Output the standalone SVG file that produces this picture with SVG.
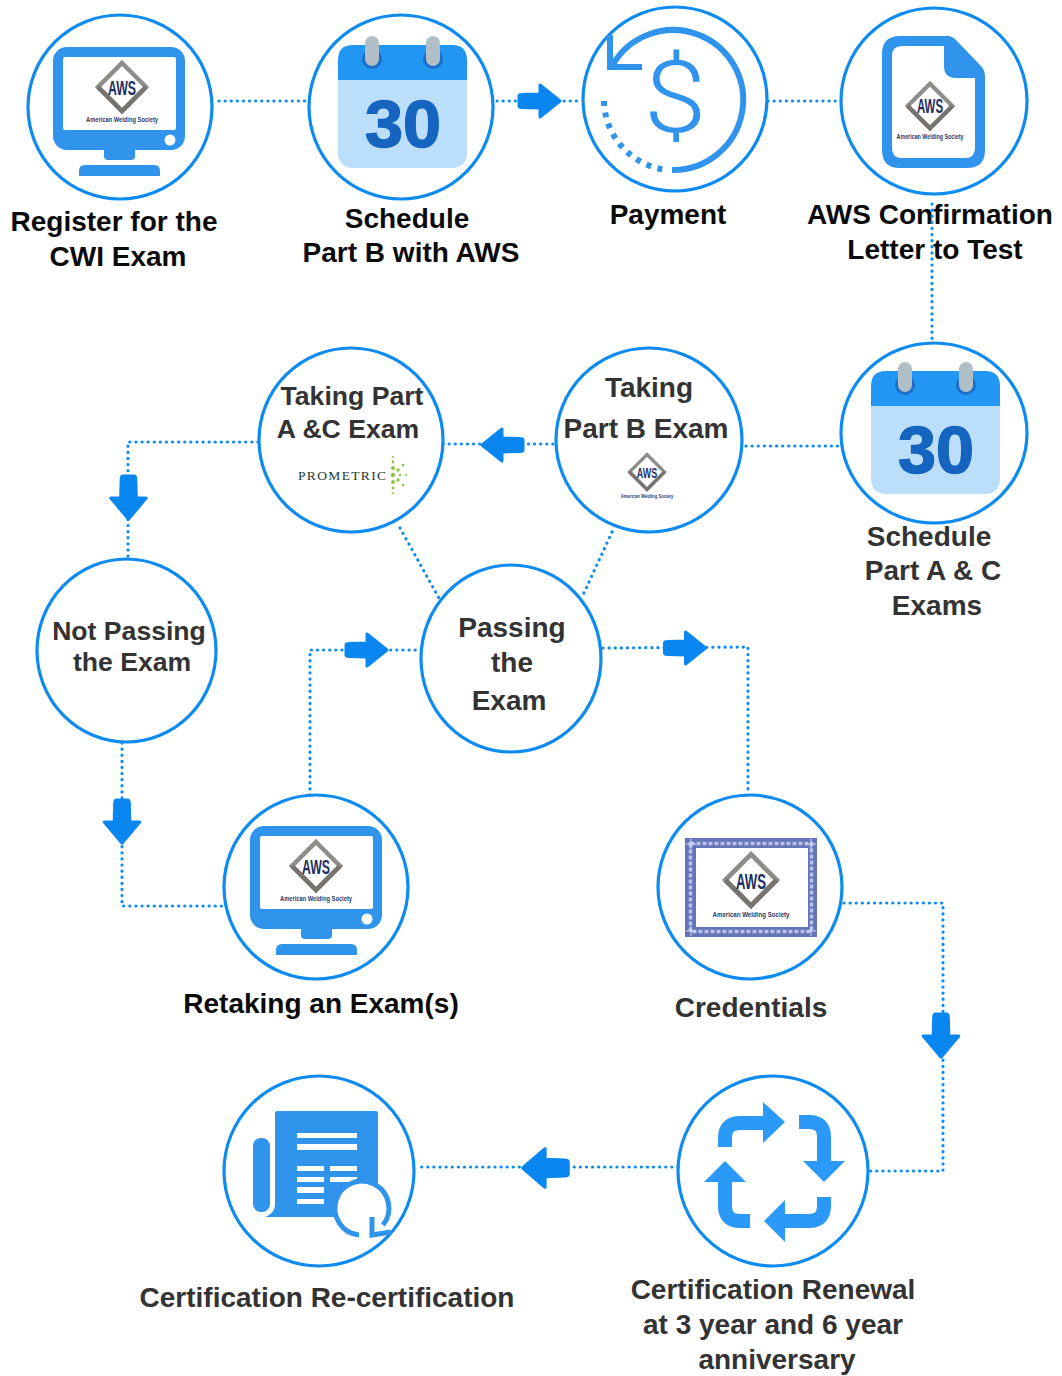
<svg xmlns="http://www.w3.org/2000/svg" xmlns:xlink="http://www.w3.org/1999/xlink" width="1062" height="1376" viewBox="0 0 1062 1376">
<style>
.ring{fill:#fff;stroke:#0d8bf0;stroke-width:3.2}
.lbl{font-family:"Liberation Sans",Arial,sans-serif;font-weight:700;font-size:28px;text-anchor:middle}
.sm{font-size:26.6px}
.k{fill:#0b0b0b}.g{fill:#333}
.ic{fill:#3194ec}
.link{fill:none;stroke:#0d8bf0;stroke-width:3.2;stroke-linecap:round;stroke-dasharray:.1 6}
.arr{fill:#0a86f0;stroke:#0a86f0;stroke-width:3;stroke-linejoin:round}
.soc{font-family:"Liberation Sans",Arial,sans-serif;font-weight:700;font-size:7.5px;fill:#2b3a6b;text-anchor:middle}
.aws{font-family:"Liberation Sans",Arial,sans-serif;font-weight:700;font-size:21px;fill:#1f2f63;text-anchor:middle}
.num{font-family:"Liberation Sans",Arial,sans-serif;font-weight:700;font-size:66px;fill:#1565c0;stroke:#1565c0;stroke-width:1.5;text-anchor:middle}
.rec{fill:none;stroke:#2b99f7;stroke-width:14}
.hd{fill:#2b99f7}
.gr{fill:#8cc63f}
</style>
<defs>
<g id="logo">
<polygon points="0,-24 24,0 0,24 -24,0" fill="#fff" stroke="#8f8d8a" stroke-width="4.5"/>
<polyline points="-24,0 0,24 24,0" fill="none" stroke="#77736f" stroke-width="4.5"/>
<text class="aws" x="0" y="8" textLength="28" lengthAdjust="spacingAndGlyphs">AWS</text>
<text class="soc" x="0" y="35" textLength="72" lengthAdjust="spacingAndGlyphs">American Welding Society</text>
</g>
<g id="monitor">
<rect x="53" y="47" width="132" height="103" rx="14" class="ic"/>
<rect x="63" y="57" width="113" height="73" rx="2" fill="#fff"/>
<circle cx="170" cy="140" r="5.5" fill="#fff"/>
<path d="M104 150H135V156Q135 160 131 160H108Q104 160 104 156Z" class="ic"/>
<path d="M79 176V171Q79 165 85 165H154Q160 165 160 171V176Z" class="ic"/>
</g>
<g id="cal">
<path d="M338 80V60Q338 45 353 45H452Q467 45 467 60V80Z" fill="#2196f3"/>
<path d="M338 80H467V152Q467 168 451 168H354Q338 168 338 152Z" fill="#bbdefb"/>
<circle cx="372" cy="59" r="10" fill="#1c6fc9"/><circle cx="433" cy="59" r="10" fill="#1c6fc9"/>
<rect x="365" y="36" width="14" height="30" rx="7" fill="#b0bec5"/><rect x="426" y="36" width="14" height="30" rx="7" fill="#b0bec5"/>
<text class="num" x="403" y="147" textLength="76" lengthAdjust="spacingAndGlyphs">30</text>
</g>
<path id="ar" d="M-21,-5 Q-21,-6.500 -18,-6.500 L0,-7 L0,-16 L20,0 L0,16 L0,7 L-18,6.500 Q-21,6.500 -21,5Z"/>
</defs>

<g id="n-register"><circle class="ring" cx="120" cy="107" r="92"/><use xlink:href="#monitor" href="#monitor"/><use xlink:href="#logo" href="#logo" x="122" y="87"/>
<text class="lbl k" x="114" y="231">Register for the</text><text class="lbl k" x="118" y="266">CWI Exam</text></g>

<g id="n-schedule-b"><circle class="ring" cx="401" cy="107" r="92"/><use xlink:href="#cal" href="#cal"/>
<text class="lbl k" x="407" y="228">Schedule</text><text class="lbl k" x="411" y="262">Part B with AWS</text></g>

<g id="n-payment"><circle class="ring" cx="675" cy="99" r="92"/>
<path d="M672 170A70 70 0 1 0 612 66" fill="none" stroke="#3194ec" stroke-width="6"/>
<path d="M604 101A71 71 0 0 0 667 170" fill="none" stroke="#3194ec" stroke-width="6" stroke-dasharray="5 6.5"/>
<path d="M610 35V67H642" fill="none" stroke="#3194ec" stroke-width="6"/>
<text transform="translate(675 132) scale(1.12 1)" x="0" y="0" font-family="Roboto,'Liberation Sans',sans-serif" font-weight="300" font-size="101" fill="#3194ec" text-anchor="middle">$</text>
<text class="lbl k" x="668" y="224">Payment</text></g>

<g id="n-letter"><circle class="ring" cx="934" cy="101" r="93"/>
<path d="M900 36H948Q952 36 955 39L980 65Q985 70 985 76V150Q985 168 967 168H900Q882 168 882 150V54Q882 36 900 36Z" class="ic"/>
<path d="M902 46H944V66Q944 78 956 78H975V148Q975 158 965 158H902Q892 158 892 148V56Q892 46 902 46Z" fill="#fff"/>
<use xlink:href="#logo" href="#logo" transform="translate(930 106) scale(.93)"/>
<text class="lbl k" x="930" y="224">AWS Confirmation</text><text class="lbl k" x="935" y="259">Letter to Test</text></g>

<g id="n-schedule-ac"><ellipse class="ring" cx="934" cy="433" rx="93" ry="90"/><use xlink:href="#cal" href="#cal" x="533" y="326"/>
<text class="lbl g" x="929" y="546">Schedule</text><text class="lbl g" x="933" y="580">Part A &amp; C</text><text class="lbl g" x="937" y="615">Exams</text></g>

<g id="n-part-b"><ellipse class="ring" cx="649" cy="440" rx="93" ry="92"/>
<text class="lbl g" x="649" y="397">Taking</text><text class="lbl g" x="646" y="438">Part B Exam</text>
<use xlink:href="#logo" href="#logo" transform="translate(647 472) scale(.73)"/></g>

<g id="n-part-ac"><circle class="ring" cx="351" cy="440" r="92"/>
<text class="lbl g sm" x="352" y="405">Taking Part</text><text class="lbl g sm" x="348" y="438">A &amp;C Exam</text>
<text x="342" y="480" font-family="'Liberation Serif',serif" font-size="13.5" fill="#1d3b30" text-anchor="middle" textLength="88">PROMETRIC</text>
<g class="gr"><circle cx="393" cy="475" r="2.2"/><circle cx="393" cy="468" r="2"/><circle cx="393" cy="462" r="1.4"/><circle cx="393" cy="457" r="1"/><circle cx="393" cy="482" r="2"/><circle cx="393" cy="488" r="1.4"/><circle cx="393" cy="493" r="1"/><circle cx="398" cy="470" r="1.7"/><circle cx="403" cy="465" r="1.3"/><circle cx="398" cy="480" r="1.7"/><circle cx="403" cy="485" r="1.3"/><circle cx="400" cy="475" r="1.3"/><circle cx="406" cy="475" r="1"/></g></g>

<g id="n-not-passing"><ellipse class="ring" cx="126.500" cy="650.500" rx="89.500" ry="91.500"/>
<text class="lbl g sm" x="129" y="640">Not Passing</text><text class="lbl g sm" x="132" y="671">the Exam</text></g>

<g id="n-passing"><ellipse class="ring" cx="511" cy="658.500" rx="90" ry="93.500"/>
<text class="lbl g" x="512" y="637">Passing</text><text class="lbl g" x="512" y="672">the</text><text class="lbl g" x="509" y="710">Exam</text></g>

<g id="n-retaking"><circle class="ring" cx="316" cy="887" r="92"/><use xlink:href="#monitor" href="#monitor" x="197" y="779"/><use xlink:href="#logo" href="#logo" x="316" y="866"/>
<text class="lbl k" x="321" y="1013">Retaking an Exam(s)</text></g>

<g id="n-credentials"><circle class="ring" cx="750" cy="887" r="92"/>
<rect x="685" y="838" width="132" height="99" fill="#6474bb"/>
<rect x="690.500" y="843.500" width="121" height="88" fill="none" stroke="#b9c1e4" stroke-width="3.500" stroke-dasharray="4 2"/>
<g fill="none" stroke="#d5daf0" stroke-width="1"><path d="M686 844H696M691 839V849M806 844H816M811 839V849M686 931H696M691 926V936M806 931H816M811 926V936"/></g>
<rect x="696" y="848" width="112" height="79" fill="#fff"/>
<use xlink:href="#logo" href="#logo" transform="translate(751 880) scale(1.07)"/>
<text class="lbl g" x="751" y="1017">Credentials</text></g>

<g id="n-renewal"><circle class="ring" cx="773" cy="1171" r="95"/>
<path class="rec" d="M725 1147V1138Q725 1123 740 1123H764"/><polygon class="hd" points="763,1102 785,1122 763,1143"/>
<path class="rec" d="M799 1122H809Q824 1122 824 1137V1162"/><polygon class="hd" points="803,1161 845,1161 824,1182"/>
<path class="rec" d="M824 1197V1206Q824 1221 809 1221H785"/><polygon class="hd" points="785,1200 785,1242 764,1221"/>
<path class="rec" d="M750 1221H740Q725 1221 725 1206V1182"/><polygon class="hd" points="704,1182 746,1182 725,1161"/>
<text class="lbl g" x="773" y="1299">Certification Renewal</text><text class="lbl g" x="773" y="1334">at 3 year and 6 year</text><text class="lbl g" x="777" y="1369">anniversary</text></g>

<g id="n-recert"><circle class="ring" cx="319" cy="1171" r="95"/>
<rect x="253" y="1138" width="17" height="74" rx="8" class="ic"/>
<path d="M277 1111H376Q378 1111 378 1113V1217H265Q275 1213 275 1205V1113Q275 1111 277 1111Z" class="ic"/>
<g fill="#fff"><rect x="297" y="1133" width="60" height="5"/><rect x="297" y="1144" width="60" height="6"/><rect x="297" y="1166" width="27" height="5"/><rect x="330" y="1166" width="27" height="5"/><rect x="297" y="1177" width="27" height="5"/><rect x="330" y="1177" width="27" height="5"/><rect x="297" y="1187" width="27" height="6"/><rect x="297" y="1199" width="27" height="5"/></g>
<circle cx="360" cy="1208" r="27" fill="#fff"/>
<path d="M359 1235A27 27 0 1 1 383 1225" fill="none" stroke="#3194ec" stroke-width="5"/>
<path d="M372 1217V1235L391 1232" fill="none" stroke="#3194ec" stroke-width="5"/>
<text class="lbl g" x="327" y="1307">Certification Re-certification</text></g>

<g id="connectors">
<path class="link" d="M219 101H309"/>
<path class="link" d="M497 101H580"/>
<path class="link" d="M768 101H840"/>
<path class="link" d="M932 204V343"/>
<path class="link" d="M746 446H840"/>
<path class="link" d="M443 444H555"/>
<path class="link" d="M258 442H128V558"/>
<path class="link" d="M400 528L440 600"/>
<path class="link" d="M612 532L583 595"/>
<path class="link" d="M122 743V906H224"/>
<path class="link" d="M310 795V650H421"/>
<path class="link" d="M603 648L748 647V790"/>
<path class="link" d="M844 903H943V1171H870"/>
<path class="link" d="M678 1167H416"/>
<use xlink:href="#ar" href="#ar" class="arr" transform="translate(540 101)"/>
<use xlink:href="#ar" href="#ar" class="arr" transform="translate(502 445) rotate(180)"/>
<use xlink:href="#ar" href="#ar" class="arr" transform="translate(128.500 498) rotate(90) scale(1.05 1.1)"/>
<use xlink:href="#ar" href="#ar" class="arr" transform="translate(122 822) rotate(90) scale(1.05 1.1)"/>
<use xlink:href="#ar" href="#ar" class="arr" transform="translate(367 650)"/>
<use xlink:href="#ar" href="#ar" class="arr" transform="translate(685.500 648)"/>
<use xlink:href="#ar" href="#ar" class="arr" transform="translate(941 1036) rotate(90) scale(1.05 1.1)"/>
<use xlink:href="#ar" href="#ar" class="arr" transform="translate(545 1168) rotate(180) scale(1.1 1.2)"/>
</g>
</svg>
